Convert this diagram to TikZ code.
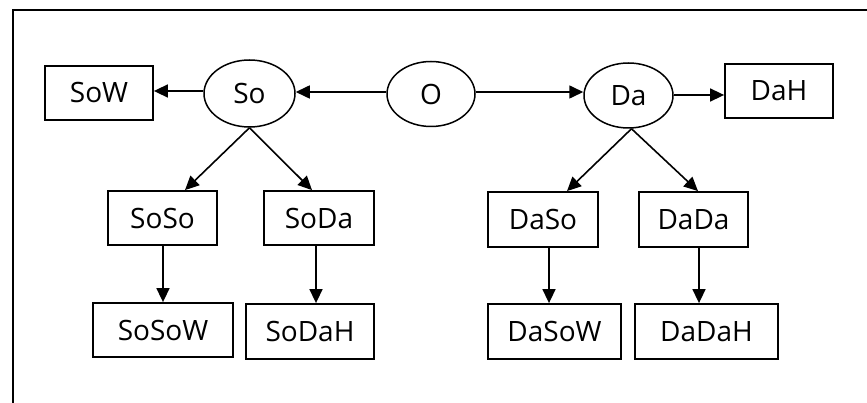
\documentclass[tikz,border=0pt]{standalone}
\usepackage{fontspec}
\setmainfont{Open Sans}
\usetikzlibrary{arrows.meta,shapes.geometric}
\tikzset{
  lbl/.style={font=\fontsize{28}{34}\selectfont},
  box/.style={draw, line width=1.8pt, rectangle, inner sep=0pt, lbl},
  oval/.style={draw, line width=1.5pt, ellipse, inner sep=0pt, lbl},
  arr/.style={line width=1.6pt, -{Triangle[length=14pt,width=13pt]}},
  frame/.style={line width=1.5pt}
}
\begin{document}
\begin{tikzpicture}[x=1pt,y=-1pt]
\useasboundingbox (0,0) rectangle (867,403);
% partial outer frame
\draw[frame] (13,403) -- (13,10) -- (867,10);

% top row
\node[box, minimum width=108pt, minimum height=54pt] (SoW) at (99,93) {SoW};
\node[oval, minimum width=91pt, minimum height=67pt] (So) at (249.5,93.5) {So};
\node[oval, minimum width=88pt, minimum height=65pt] (O) at (431,94) {O};
\node[oval, minimum width=89pt, minimum height=65pt] (Da) at (628.5,95.5) {Da};
\node[box, minimum width=108pt, minimum height=54pt] (DaH) at (779,91) {DaH};

% middle row
\node[box, minimum width=109pt, minimum height=54pt] (SoSo) at (162.5,218) {SoSo};
\node[box, minimum width=110pt, minimum height=54pt] (SoDa) at (319,218) {SoDa};
\node[box, minimum width=110pt, minimum height=55pt] (DaSo) at (543,219.5) {DaSo};
\node[box, minimum width=109pt, minimum height=55pt] (DaDa) at (693.5,219.5) {DaDa};

% bottom row
\node[box, minimum width=140pt, minimum height=54pt] (SoSoW) at (163,330) {SoSoW};
\node[box, minimum width=128pt, minimum height=55pt] (SoDaH) at (310,331.5) {SoDaH};
\node[box, minimum width=133pt, minimum height=55pt] (DaSoW) at (554.5,331.5) {DaSoW};
\node[box, minimum width=143pt, minimum height=55pt] (DaDaH) at (706.5,331.5) {DaDaH};

% horizontal connectors
\draw[arr] ([yshift=2.5pt]So.west) -- ([yshift=2.5pt]SoW.east |- So.west);
\draw[arr] ([yshift=2pt]O.west) -- ([yshift=2pt]So.east |- O.west);
\draw[arr] ([yshift=2pt]O.east) -- ([yshift=2pt]Da.west |- O.east);
\draw[arr] ([yshift=0.5pt]Da.east) -- ([yshift=0.5pt]DaH.west |- Da.east);

% diagonal connectors
\draw[arr] (So.south) -- ([xshift=22.5pt]SoSo.north);
\draw[arr] (So.south) -- ([xshift=-7pt]SoDa.north);
\draw[arr] ([xshift=3pt]Da.south) -- ([xshift=24pt]DaSo.north);
\draw[arr] ([xshift=3pt]Da.south) -- ([xshift=4.5pt]DaDa.north);

% vertical connectors
\draw[arr] ([xshift=0.5pt]SoSo.south) -- ([xshift=0.5pt]SoSo.south |- SoSoW.north);
\draw[arr] ([xshift=-3pt]SoDa.south) -- ([xshift=-3pt]SoDa.south |- SoDaH.north);
\draw[arr] ([xshift=6pt]DaSo.south) -- ([xshift=6pt]DaSo.south |- DaSoW.north);
\draw[arr] ([xshift=5.5pt]DaDa.south) -- ([xshift=5.5pt]DaDa.south |- DaDaH.north);
\end{tikzpicture}
\end{document}
